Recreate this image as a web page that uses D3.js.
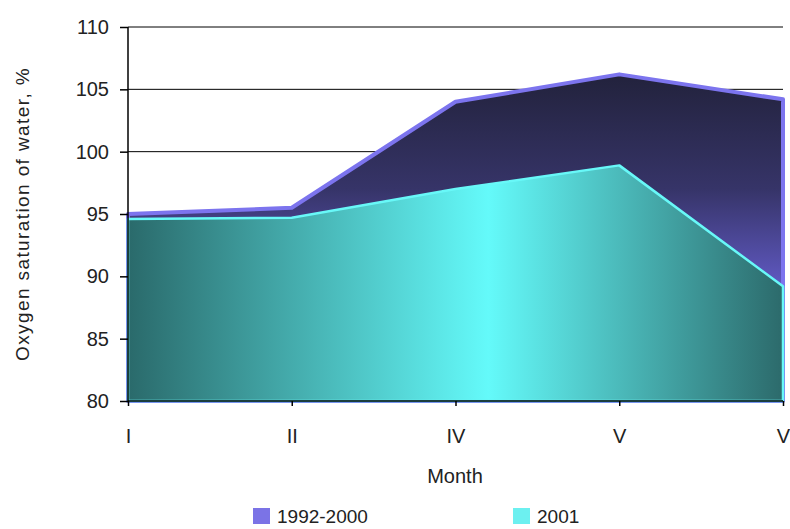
<!DOCTYPE html>
<html>
<head>
<meta charset="utf-8">
<script src="https://cdn.jsdelivr.net/npm/d3@7"></script>
<style>
  html, body { margin: 0; padding: 0; background: #fff; }
  svg { display: block; }
  text { font-family: "Liberation Sans", Arial, sans-serif; fill: #222; }
</style>
</head>
<body>
<svg id="chart" width="790" height="529"></svg>
<script>
// Monthly oxygen saturation of water, %
const months = ["I", "II", "IV", "V", "V"];
const series1992 = [95.0, 95.5, 104.0, 106.2, 104.2];
const series2001 = [94.6, 94.7, 97.0, 98.9, 89.2];
const yTicks = [80, 85, 90, 95, 100, 105, 110];
const seriesNames = ["1992-2000", "2001"];

const W = 790, H = 529;
const margin = { top: 27, right: 7, bottom: 128, left: 128 };
const innerW = W - margin.left - margin.right;
const innerH = H - margin.top - margin.bottom;

const svg = d3.select("#chart");
const defs = svg.append("defs");

// vertical gradient for the long-term series
const g1 = defs.append("linearGradient")
  .attr("id", "fill1992").attr("x1", 0).attr("y1", 0).attr("x2", 0).attr("y2", 1);
g1.append("stop").attr("offset", "0%").attr("stop-color", "#22223c");
g1.append("stop").attr("offset", "35%").attr("stop-color", "#363468");
g1.append("stop").attr("offset", "72%").attr("stop-color", "#6a62d8");
g1.append("stop").attr("offset", "100%").attr("stop-color", "#7c74f2");

// horizontal gradient for 2001
const g2 = defs.append("linearGradient")
  .attr("id", "fill2001").attr("gradientUnits", "userSpaceOnUse")
  .attr("x1", 0).attr("y1", 0).attr("x2", innerW).attr("y2", 0);
g2.append("stop").attr("offset", "0%").attr("stop-color", "#2a6a6b");
g2.append("stop").attr("offset", "55%").attr("stop-color", "#64fafa");
g2.append("stop").attr("offset", "100%").attr("stop-color", "#2c6a6b");

const g = svg.append("g").attr("transform", `translate(${margin.left},${margin.top})`);

const x = d3.scalePoint().domain(d3.range(months.length)).range([0, innerW]);
const y = d3.scaleLinear().domain([80, 110]).range([innerH, 0]);

// horizontal gridlines
g.append("g").selectAll("line").data(yTicks).join("line")
  .attr("x1", 0).attr("x2", innerW)
  .attr("y1", d => y(d)).attr("y2", d => y(d))
  .attr("stroke", "#000").attr("stroke-width", 1);

const area = vals => d3.area()
  .x((d, i) => x(i))
  .y0(y(80))
  .y1(d => y(d))(vals);

g.append("path")
  .attr("d", area(series1992))
  .attr("fill", "url(#fill1992)")
  .attr("stroke", "#7c74ee")
  .attr("stroke-width", 4)
  .attr("stroke-linejoin", "round");

g.append("path")
  .attr("d", area(series2001))
  .attr("fill", "url(#fill2001)")
  .attr("stroke", "#68f8f8")
  .attr("stroke-width", 2.5)
  .attr("stroke-linejoin", "round");

// axes
const yAxis = g.append("g")
  .call(d3.axisLeft(y).tickValues(yTicks).tickSize(8).tickPadding(11).tickFormat(d3.format("d")));
const xAxis = g.append("g").attr("transform", `translate(0,${innerH})`)
  .call(d3.axisBottom(x).tickSize(5).tickPadding(23).tickFormat(i => months[i]));

[yAxis, xAxis].forEach(a => {
  a.select(".domain").attr("stroke", "#000").attr("stroke-width", 1.5);
  a.selectAll(".tick line").attr("stroke", "#000").attr("stroke-width", 1.5);
  a.selectAll("text").attr("font-size", 20).attr("font-family", "Liberation Sans, Arial, sans-serif").attr("fill", "#222");
});
yAxis.select(".domain").attr("d", `M0,${innerH}V0`);
xAxis.select(".domain").attr("d", `M0,0H${innerW}`);

// axis titles
svg.append("text")
  .attr("transform", `translate(22,${margin.top + innerH / 2}) rotate(-90)`)
  .attr("text-anchor", "middle").attr("dominant-baseline", "central")
  .attr("font-size", 19).attr("letter-spacing", 1.4)
  .text("Oxygen saturation of water, %");

svg.append("text")
  .attr("x", 455).attr("y", 483)
  .attr("text-anchor", "middle").attr("font-size", 20)
  .text("Month");

// legend
const legend = svg.append("g");
const legendItems = [
  { name: seriesNames[0], x: 253, color: "#7b73e6" },
  { name: seriesNames[1], x: 513, color: "#6cf0f0" }
];
const li = legend.selectAll("g").data(legendItems).join("g")
  .attr("transform", d => `translate(${d.x},508)`);
li.append("rect").attr("width", 17).attr("height", 16).attr("fill", d => d.color);
li.append("text").attr("x", 24).attr("y", 15).attr("font-size", 19).text(d => d.name);
</script>
</body>
</html>
